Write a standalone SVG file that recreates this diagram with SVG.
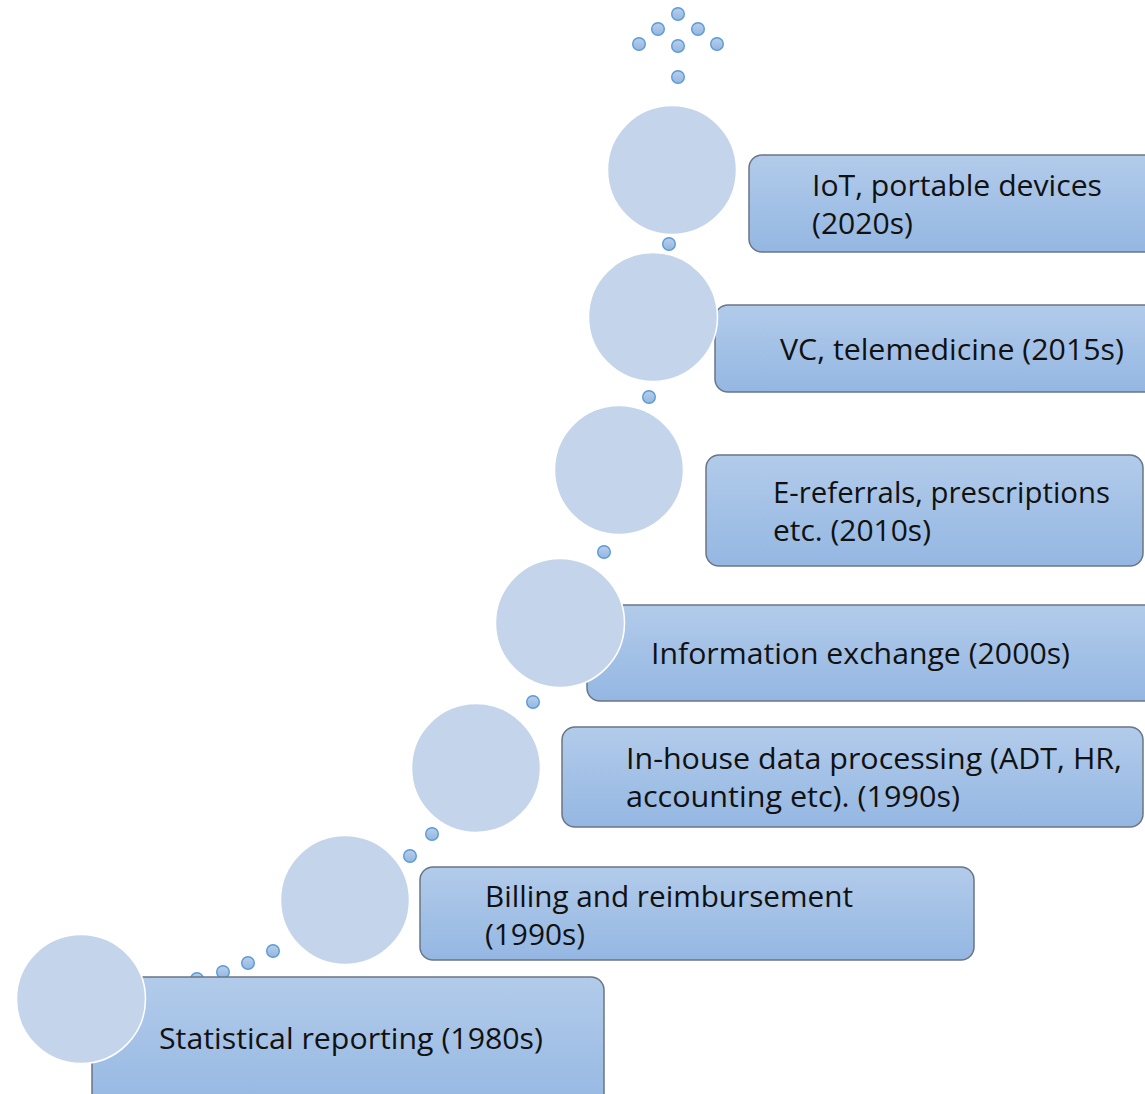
<svg xmlns="http://www.w3.org/2000/svg" width="1145" height="1094" viewBox="0 0 1145 1094">
<defs>
<linearGradient id="boxGrad" x1="0" y1="0" x2="0" y2="1">
<stop offset="0" stop-color="#b2cbea"/>
<stop offset="1" stop-color="#94b7e2"/>
</linearGradient>
<linearGradient id="dotGrad" x1="0" y1="0" x2="0" y2="1">
<stop offset="0" stop-color="#b7cfeb"/>
<stop offset="1" stop-color="#94b6e1"/>
</linearGradient>
<style>
.box{fill:url(#boxGrad);stroke:#6a7685;stroke-width:1.5}
.big{fill:#c4d5eb;stroke:#ffffff;stroke-width:1.5}
.dot{fill:url(#dotGrad);stroke:#5b9bd5;stroke-width:1.4}
.lbl{font-family:"Open Sans","Noto Sans","Liberation Sans",sans-serif;font-size:30px;fill:#111111}
</style>
</defs>
<g id="connectors">
<circle class="dot" cx="678" cy="14" r="6.3"/>
<circle class="dot" cx="658" cy="29" r="6.3"/>
<circle class="dot" cx="698" cy="29" r="6.3"/>
<circle class="dot" cx="639" cy="44" r="6.3"/>
<circle class="dot" cx="678" cy="46" r="6.3"/>
<circle class="dot" cx="717" cy="44" r="6.3"/>
<circle class="dot" cx="678" cy="77" r="6.3"/>
<circle class="dot" cx="669" cy="244" r="6.3"/>
<circle class="dot" cx="649" cy="397" r="6.3"/>
<circle class="dot" cx="604" cy="552" r="6.3"/>
<circle class="dot" cx="533" cy="702" r="6.3"/>
<circle class="dot" cx="432" cy="834" r="6.3"/>
<circle class="dot" cx="410" cy="856" r="6.3"/>
<circle class="dot" cx="273" cy="951" r="6.3"/>
<circle class="dot" cx="248" cy="963" r="6.3"/>
<circle class="dot" cx="223" cy="972" r="6.3"/>
<circle class="dot" cx="197" cy="979" r="6.3"/>
</g>
<g id="node-iot">
<rect class="box" x="749" y="155" width="420" height="97" rx="13"/>
<circle class="big" cx="672" cy="170" r="64.5"/>
<text class="lbl" x="812" y="196" textLength="290" lengthAdjust="spacingAndGlyphs">IoT, portable devices</text>
<text class="lbl" x="812" y="234" textLength="101" lengthAdjust="spacingAndGlyphs">(2020s)</text>
</g>
<g id="node-vc">
<rect class="box" x="715" y="305" width="450" height="87" rx="13"/>
<circle class="big" cx="653" cy="317" r="64.5"/>
<text class="lbl" x="780" y="360" textLength="344" lengthAdjust="spacingAndGlyphs">VC, telemedicine (2015s)</text>
</g>
<g id="node-ereferrals">
<rect class="box" x="706" y="455" width="437" height="111" rx="13"/>
<circle class="big" cx="619" cy="470" r="64.5"/>
<text class="lbl" x="773" y="503" textLength="337" lengthAdjust="spacingAndGlyphs">E-referrals, prescriptions</text>
<text class="lbl" x="773" y="541" textLength="158" lengthAdjust="spacingAndGlyphs">etc. (2010s)</text>
</g>
<g id="node-info">
<rect class="box" x="587" y="605" width="580" height="96" rx="13"/>
<circle class="big" cx="560" cy="623" r="64.5"/>
<text class="lbl" x="651" y="664" textLength="419" lengthAdjust="spacingAndGlyphs">Information exchange (2000s)</text>
</g>
<g id="node-inhouse">
<rect class="box" x="562" y="727" width="581" height="100" rx="13"/>
<circle class="big" cx="476" cy="768" r="64.5"/>
<text class="lbl" x="626" y="769" textLength="496" lengthAdjust="spacingAndGlyphs">In-house data processing (ADT, HR,</text>
<text class="lbl" x="626" y="807" textLength="334" lengthAdjust="spacingAndGlyphs">accounting etc). (1990s)</text>
</g>
<g id="node-billing">
<rect class="box" x="420" y="867" width="554" height="93" rx="13"/>
<circle class="big" cx="345" cy="900" r="64.5"/>
<text class="lbl" x="485" y="907" textLength="368" lengthAdjust="spacingAndGlyphs">Billing and reimbursement</text>
<text class="lbl" x="485" y="945" textLength="100" lengthAdjust="spacingAndGlyphs">(1990s)</text>
</g>
<g id="node-statistical">
<rect class="box" x="92" y="977" width="512" height="140" rx="13"/>
<circle class="big" cx="81" cy="999" r="64.5"/>
<text class="lbl" x="159" y="1049" textLength="384" lengthAdjust="spacingAndGlyphs">Statistical reporting (1980s)</text>
</g>
</svg>
